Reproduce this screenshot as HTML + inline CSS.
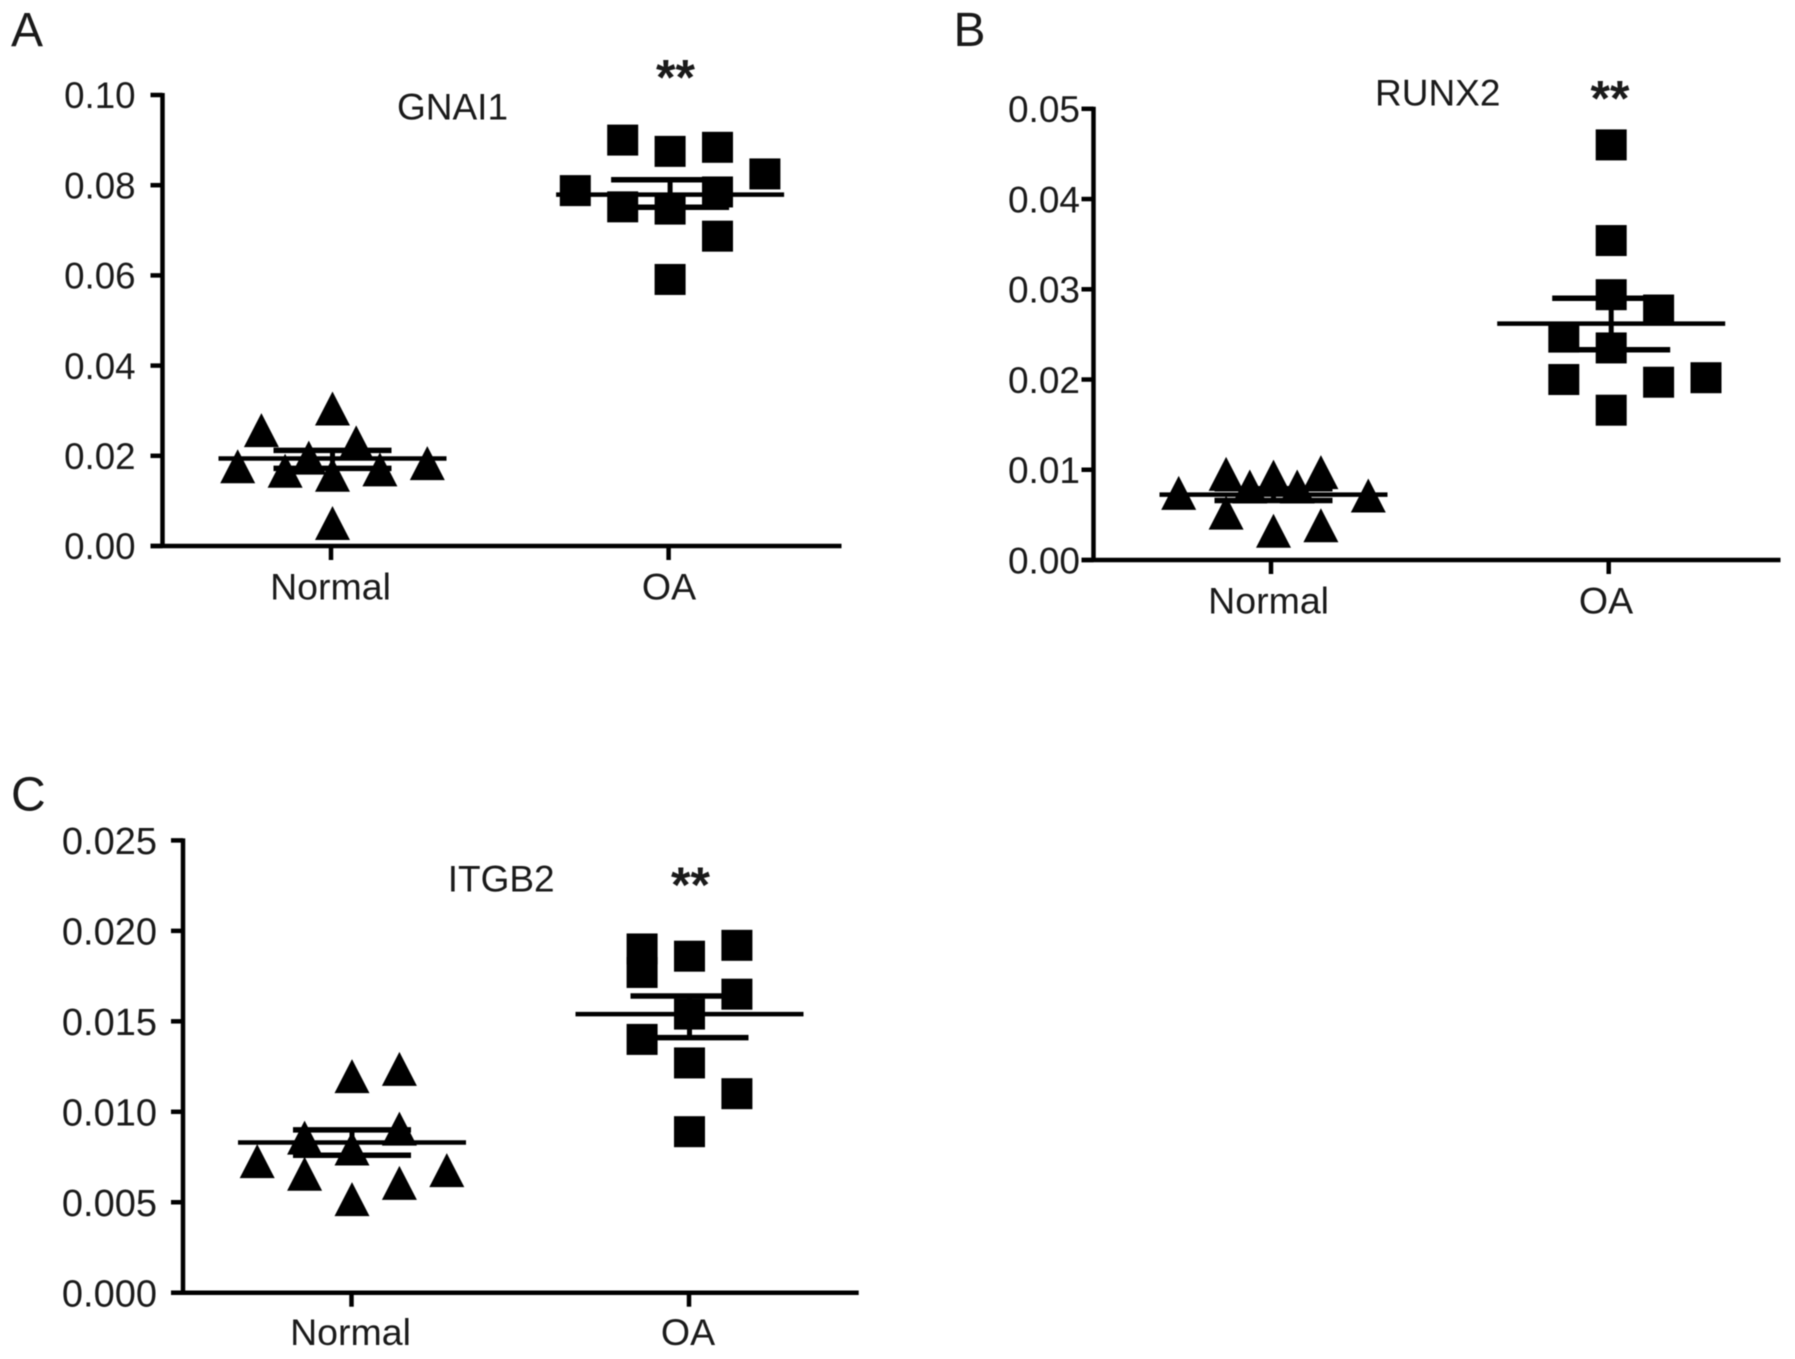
<!DOCTYPE html>
<html lang="en">
<head>
<meta charset="utf-8">
<title>GNAI1, RUNX2 and ITGB2 expression in Normal and OA groups</title>
<style>
html,body{margin:0;padding:0;background:#fff;}
svg{display:block;filter:blur(0.5px);}
text{font-family:"Liberation Sans",Arial,sans-serif;fill:#1a1a1a;}
</style>
</head>
<body>
<svg id="figure" xmlns="http://www.w3.org/2000/svg" width="1795" height="1359" viewBox="0 0 1795 1359">
  <rect x="0" y="0" width="1795" height="1359" fill="#ffffff"/>
  <text x="11" y="46" font-size="48">A</text>
  <text x="953.5" y="46" font-size="48">B</text>
  <text x="11" y="810.5" font-size="48">C</text>
</svg>
<script>
const categories = ['Normal', 'OA'];

const gnai1Ticks = [0, 0.02, 0.04, 0.06, 0.08, 0.10];
const gnai1TickLabels = ['0.00', '0.02', '0.04', '0.06', '0.08', '0.10'];
const gnai1NormalValues = [0.0178, 0.0258, 0.0168, 0.0197, 0.0306, 0.0159, 0.0052, 0.0231, 0.0171, 0.0185];
const gnai1NormalSlots = [-4, -3, -2, -1, 0, 0, 0, 1, 2, 4];
const gnai1OaValues = [0.0788, 0.0900, 0.0752, 0.0875, 0.0747, 0.0591, 0.0884, 0.0785, 0.0687, 0.0825];
const gnai1OaSlots = [-4, -2, -2, 0, 0, 0, 2, 2, 2, 4];
const gnai1Means = [0.0194, 0.0779];
const gnai1Upper = [0.0212, 0.0812];
const gnai1Lower = [0.0172, 0.0751];

const runx2Ticks = [0, 0.01, 0.02, 0.03, 0.04, 0.05];
const runx2TickLabels = ['0.00', '0.01', '0.02', '0.03', '0.04', '0.05'];
const runx2NormalValues = [0.0075, 0.0096, 0.0053, 0.0082, 0.0093, 0.0033, 0.0082, 0.0098, 0.0039, 0.0072];
const runx2NormalSlots = [-4, -2, -2, -1, 0, 0, 1, 2, 2, 4];
const runx2OaValues = [0.0460, 0.0354, 0.0294, 0.0235, 0.0166, 0.0247, 0.0200, 0.0277, 0.0197, 0.0202];
const runx2OaSlots = [0, 0, 0, 0, 0, -2, -2, 2, 2, 4];
const runx2Means = [0.00725, 0.0262];
const runx2Upper = [0.0079, 0.0290];
const runx2Lower = [0.0066, 0.0233];

const itgb2Ticks = [0, 0.005, 0.010, 0.015, 0.020, 0.025];
const itgb2TickLabels = ['0.000', '0.005', '0.010', '0.015', '0.020', '0.025'];
const itgb2NormalValues = [0.0073, 0.0086, 0.0066, 0.0120, 0.0080, 0.0052, 0.0124, 0.0091, 0.0061, 0.0068];
const itgb2NormalSlots = [-4, -2, -2, 0, 0, 0, 2, 2, 2, 4];
const itgb2OaValues = [0.0190, 0.0177, 0.0140, 0.0186, 0.0154, 0.0127, 0.0089, 0.0192, 0.0165, 0.0110];
const itgb2OaSlots = [-2, -2, -2, 0, 0, 0, 0, 2, 2, 2];
const itgb2Means = [0.0083, 0.0154];
const itgb2Upper = [0.0090, 0.0164];
const itgb2Lower = [0.0076, 0.0141];

const SVG_NS = 'http://www.w3.org/2000/svg';
const figure = document.getElementById('figure');
const INK = '#000000';
const SLOT_WIDTH = 23.7;
const MEAN_HALF = 114;
const CAP_HALF = 59;

function make(parent, tag, attrs) {
  const el = document.createElementNS(SVG_NS, tag);
  for (const key in attrs) el.setAttribute(key, attrs[key]);
  parent.appendChild(el);
  return el;
}

function linearScale(domainMin, domainMax, rangeMin, rangeMax) {
  return function (v) {
    return rangeMin + (v - domainMin) / (domainMax - domainMin) * (rangeMax - rangeMin);
  };
}

function drawLine(parent, x1, y1, x2, y2, width, name) {
  const el = make(parent, 'line', { x1: x1, y1: y1, x2: x2, y2: y2, stroke: INK, 'stroke-width': width });
  
  
  return el;
}

function drawLabel(parent, x, y, str, size, anchor, name, weight) {
  const el = make(parent, 'text', { x: x, y: y, 'font-size': size, 'text-anchor': anchor, 'font-weight': weight || 'normal' });
  el.textContent = str;
  
  
  return el;
}

function drawTriangle(parent, cx, cy, name) {
  const pts = (cx - 17.5) + ',' + (cy + 17.5) + ' ' + cx + ',' + (cy - 16.5) + ' ' + (cx + 17.5) + ',' + (cy + 17.5);
  const el = make(parent, 'polygon', { points: pts, fill: INK });
  
  
}

function drawSquare(parent, cx, cy, name) {
  const el = make(parent, 'rect', { x: cx - 15.5, y: cy - 15.5, width: 31, height: 31, fill: INK });
  
  
}

function drawSummary(parent, cx, y, mean, upper, lower, prefix) {
  drawLine(parent, cx - MEAN_HALF, y(mean), cx + MEAN_HALF, y(mean), 4.5, prefix + '-mean-line');
  drawLine(parent, cx - CAP_HALF, y(upper), cx + CAP_HALF, y(upper), 5.5, prefix + '-sem-upper-cap');
  drawLine(parent, cx - CAP_HALF, y(lower), cx + CAP_HALF, y(lower), 5.5, prefix + '-sem-lower-cap');
  drawLine(parent, cx, y(upper), cx, y(lower), 5, prefix + '-sem-stem');
}

function drawPanel(p) {
  const g = make(figure, 'g', {});
  
  

  const y = linearScale(p.ticks[0], p.ticks[p.ticks.length - 1], p.yBottom, p.yTop);
  const x = function (i) { return p.xCenters[i]; };
  const markX = function (i) { return p.xCenters[i] + p.markShift; };

  drawLine(g, p.xAxis, y(p.ticks[p.ticks.length - 1]) - 2, p.xAxis, p.yBottom + 2, 4.5, p.name + '-y-axis');
  drawLine(g, p.xAxis - 12, p.yBottom, p.xEnd, p.yBottom, 4.5, p.name + '-x-axis');

  p.ticks.forEach(function (t, i) {
    drawLine(g, p.xAxis - 12, y(t), p.xAxis, y(t), 4.5, p.name + '-y-tick');
    drawLabel(g, p.tickRight, y(t) + p.tickSize * 0.36, p.tickLabels[i], p.tickSize, 'end', p.name + '-y-tick-label');
  });

  categories.forEach(function (c, i) {
    drawLine(g, x(i), p.yBottom, x(i), p.yBottom + 14, 4.5, p.name + '-x-tick');
    drawLabel(g, p.labelCenters[i], p.labelBaseline, c, 37.5, 'middle', p.name + '-x-label-' + c.toLowerCase());
  });

  p.normal.forEach(function (v, i) {
    drawTriangle(g, markX(0) + p.normalSlots[i] * SLOT_WIDTH, y(v), p.name + '-normal-point');
  });
  p.oa.forEach(function (v, i) {
    drawSquare(g, markX(1) + p.oaSlots[i] * SLOT_WIDTH, y(v), p.name + '-oa-point');
  });

  drawSummary(g, markX(0), y, p.means[0], p.upper[0], p.lower[0], p.name + '-normal');
  drawSummary(g, markX(1), y, p.means[1], p.upper[1], p.lower[1], p.name + '-oa');

  drawLabel(g, p.titleX, p.titleY, p.title, 37, 'start', p.name + '-title');
  drawLabel(g, p.starX, p.starY, '**', 50, 'middle', p.name + '-significance-marker', 'bold');
}

drawPanel({
  name: 'gnai1', title: 'GNAI1', ticks: gnai1Ticks, tickLabels: gnai1TickLabels,
  normal: gnai1NormalValues, normalSlots: gnai1NormalSlots, oa: gnai1OaValues, oaSlots: gnai1OaSlots,
  means: gnai1Means, upper: gnai1Upper, lower: gnai1Lower,
  xAxis: 162.5, xEnd: 841.5, yTop: 95, yBottom: 546, xCenters: [331, 668.6], markShift: 1.5,
  tickRight: 135.5, tickSize: 36.7,
  labelCenters: [330.5, 669], labelBaseline: 599.5, titleX: 397, titleY: 119.5, starX: 675.5, starY: 94.5
});

drawPanel({
  name: 'runx2', title: 'RUNX2', ticks: runx2Ticks, tickLabels: runx2TickLabels,
  normal: runx2NormalValues, normalSlots: runx2NormalSlots, oa: runx2OaValues, oaSlots: runx2OaSlots,
  means: runx2Means, upper: runx2Upper, lower: runx2Lower,
  xAxis: 1093.5, xEnd: 1780.5, yTop: 108.8, yBottom: 560, xCenters: [1271, 1608.7], markShift: 2.5,
  tickRight: 1080, tickSize: 37,
  labelCenters: [1268.6, 1606], labelBaseline: 613.5, titleX: 1375, titleY: 105.5, starX: 1610, starY: 115.5
});

drawPanel({
  name: 'itgb2', title: 'ITGB2', ticks: itgb2Ticks, tickLabels: itgb2TickLabels,
  normal: itgb2NormalValues, normalSlots: itgb2NormalSlots, oa: itgb2OaValues, oaSlots: itgb2OaSlots,
  means: itgb2Means, upper: itgb2Upper, lower: itgb2Lower,
  xAxis: 183, xEnd: 858.7, yTop: 840.4, yBottom: 1292.7, xCenters: [351.5, 689], markShift: 0.5,
  tickRight: 157, tickSize: 38,
  labelCenters: [350.5, 688], labelBaseline: 1345, titleX: 447.7, titleY: 891.5, starX: 690.5, starY: 902
});
</script>
</body>
</html>
